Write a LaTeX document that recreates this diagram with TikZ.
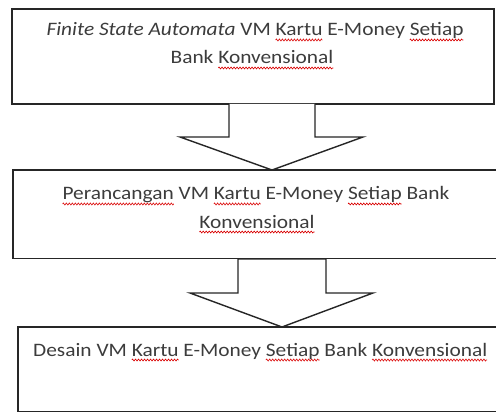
\documentclass[tikz,border=0pt]{standalone}
\usepackage{fontspec}
\setmainfont{Carlito}[FakeStretch=1.125]
\usetikzlibrary{decorations.pathmorphing}
\newsavebox\wavebox
\newcommand\redwave[1]{\sbox\wavebox{#1}\tikz[overlay,baseline=0pt,x=1pt,y=1pt]\draw[red!85!black,line width=0.6pt,decorate,decoration={zigzag,amplitude=1pt,segment length=3pt}] (0pt,-4pt) -- (\the\wd\wavebox,-4pt);\usebox\wavebox}
\definecolor{txtgray}{RGB}{60,60,60}
\tikzset{
  box/.style={draw=black!85, line width=1.4pt, inner sep=0pt},
  openbox/.style={inner sep=0pt},
  boxline/.style={draw=black!85, line width=1.4pt, line join=miter},
  txt/.style={inner sep=0pt, text=txtgray, font=\fontsize{19}{28}\selectfont},
  blockarrow/.style={draw=black!85, line width=1.4pt, fill=white, line join=miter}
}
\begin{document}
\begin{tikzpicture}[x=1pt,y=-1pt]
\useasboundingbox (0,0) rectangle (496,412);
% boxes
\node[box, minimum width=482pt, minimum height=95pt] (b1) at (253,56.5) {};
\node[openbox, minimum width=560pt, minimum height=88pt] (b2) at (293,214) {};
\node[openbox, minimum width=560pt, minimum height=84pt] (b3) at (298,369) {};
\draw[boxline] (b2.north east) -- (b2.north west) -- (b2.south west) -- (b2.south east);
\draw[boxline] (b3.north east) -- (b3.north west) -- (b3.south west) -- (b3.south east);
% arrows
\draw[blockarrow] (229,104) -- (229,137) -- (180,137) -- (272,170) -- (363,137) -- (315,137) -- (315,104);
\draw[blockarrow] (238,259) -- (326,259) -- (326,293) -- (373,293) -- (282,327) -- (190,293) -- (238,293) -- cycle;
% texts
\node[txt, anchor=base] (t1a) at (255,36) {\textit{Finite State Automata} VM \redwave{Kartu} E-Money \redwave{Setiap}};
\node[txt, anchor=base] (t1b) at (252,64) {Bank \redwave{Konvensional}};
\node[txt, anchor=base] (t2a) at (256,200) {\redwave{Perancangan} VM \redwave{Kartu} E-Money \redwave{Setiap} Bank};
\node[txt, anchor=base] (t2b) at (257,228) {\redwave{Konvensional}};
\node[txt, anchor=base west] (t3) at (33,356) {Desain VM \redwave{Kartu} E-Money \redwave{Setiap} Bank \redwave{Konvensional}};
\end{tikzpicture}
\end{document}
